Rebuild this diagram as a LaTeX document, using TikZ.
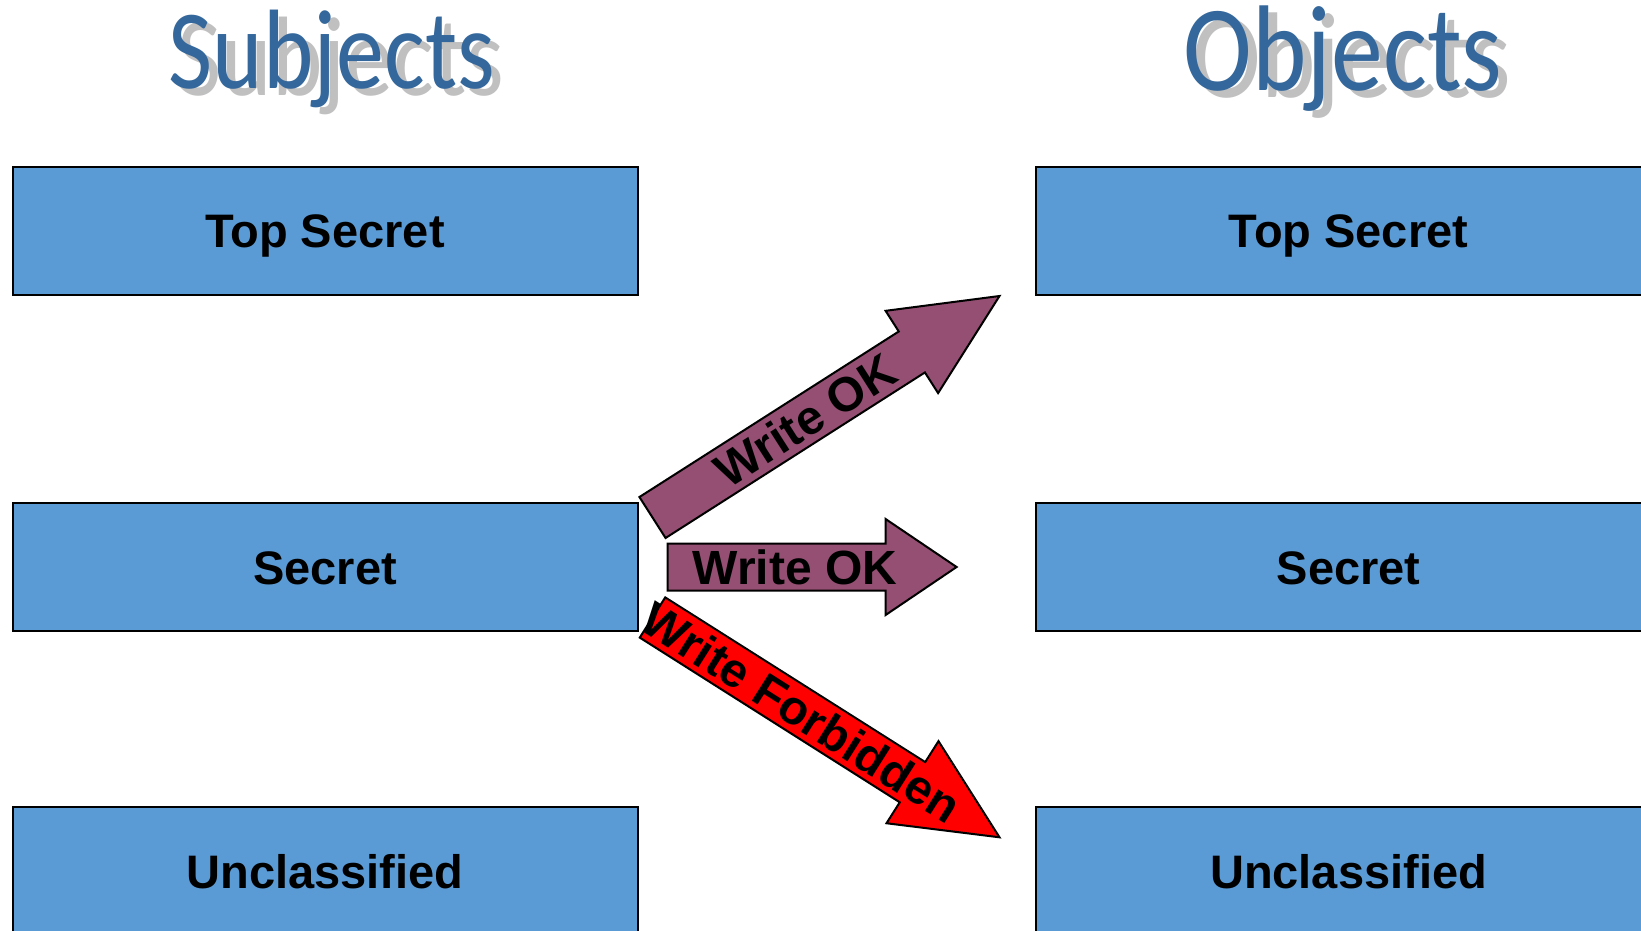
\documentclass[tikz,border=0pt]{standalone}
\usepackage{fontspec}
\setmainfont{Liberation Sans}
\newfontfamily\titlefont[FakeStretch=0.85]{Carlito}
\usetikzlibrary{calc,positioning}

\definecolor{levelblue}{RGB}{91,155,213}
\definecolor{okpurple}{RGB}{149,79,114}
\definecolor{titleblue}{RGB}{52,103,155}
\definecolor{shadowgray}{RGB}{192,192,192}

\tikzset{
    level/.style={draw=black, line width=2, fill=levelblue, minimum width=625, minimum height=128, inner sep=0, text height=34pt, text depth=0pt, font=\bfseries\fontsize{47}{50}\selectfont},
    heading/.style={anchor=base, inner sep=0},
    arrowtext/.style={inner sep=0, font=\bfseries\fontsize{48}{50}\selectfont}
}

% block arrow: tail, tip, half shaft, half head, head length, fill
\newcommand{\blockarrow}[6]{%
    \coordinate (#1neck) at ($(#2)!#5!(#1)$);
    \draw[line width=2, fill=#6] ($(#1)!#3!90:(#2)$) -- ($(#1neck)!#3!90:(#2)$) -- ($(#1neck)!#4!90:(#2)$) -- (#2)
        -- ($(#1neck)!#4!-90:(#2)$) -- ($(#1neck)!#3!-90:(#2)$) -- ($(#1)!#3!-90:(#2)$) -- cycle;
}

\begin{document}
\begin{tikzpicture}[x=1pt, y=-1pt]
    \useasboundingbox (0,0) rectangle (1641,930);

    % headings
    \node[heading, text=shadowgray, font=\titlefont\fontsize{113}{120}\selectfont] (subShadow) at (341,95) {Subjects};
    \node[heading, text=titleblue, font=\titlefont\fontsize{113}{120}\selectfont] (subHead) at (332,88) {Subjects};
    \node[heading, text=shadowgray, font=\titlefont\fontsize{122}{130}\selectfont] (objShadow) at (1352,97) {Objects};
    \node[heading, text=titleblue, font=\titlefont\fontsize{122}{130}\selectfont] (objHead) at (1343,90) {Objects};

    % subject levels
    \node[level] (subTop) at (325,230.7) {Top Secret};
    \node[level] (subSec) at (325,567.2) {Secret};
    \node[level] (subUnc) at (325,871) {Unclassified};

    % object levels
    \node[level] (objTop) at (1348.5,230.7) {Top Secret};
    \node[level] (objSec) at (1348.5,567.2) {Secret};
    \node[level] (objUnc) at (1348.5,871) {Unclassified};

    % write arrows
    \coordinate (upTail) at (652.5,517.5);
    \coordinate (upTip) at (999.5,296);
    \coordinate (midTail) at (667.7,567);
    \coordinate (midTip) at (956.6,567);
    \coordinate (downTail) at (652.5,617.5);
    \coordinate (downTip) at (999.5,837.3);

    \blockarrow{upTail}{upTip}{24.3pt}{48.8pt}{104pt}{okpurple}
    \blockarrow{midTail}{midTip}{23.5pt}{48pt}{71pt}{okpurple}
    \blockarrow{downTail}{downTip}{23.8pt}{48.6pt}{103pt}{red}

    \path (upTail) -- node[arrowtext, sloped, pos=0.44] (upLabel) {Write OK} (upTip);
    \path (midTail) -- node[arrowtext, pos=0.44] (midLabel) {Write OK} (midTip);
    \path (downTail) -- node[arrowtext, sloped, pos=0.43] (downLabel) {Write Forbidden} (downTip);
\end{tikzpicture}
\end{document}
